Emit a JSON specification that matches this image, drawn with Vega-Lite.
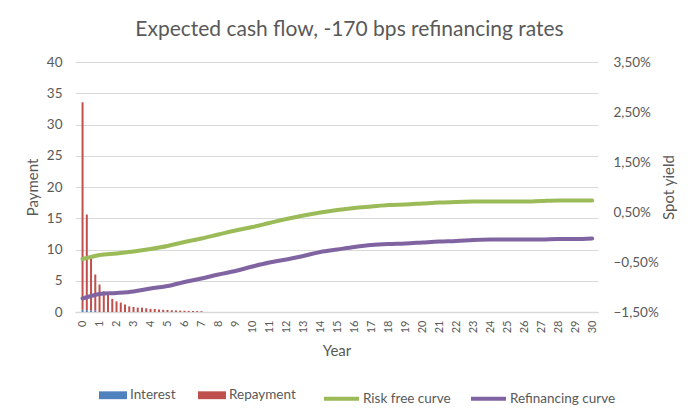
{
  "$schema": "https://vega.github.io/schema/vega-lite/v6.json",
  "width": 523,
  "height": 250,
  "autosize": "none",
  "padding": {"left": 75, "top": 62, "right": 102, "bottom": 108},
  "background": "white",
  "config": {
    "view": {"stroke": null},
    "font": "Lato",
    "axis": {"labelColor": "#595959", "titleColor": "#595959", "titleFontWeight": "normal", "gridColor": "#D9D9D9", "gridWidth": 1, "ticks": false},
    "axisX": {"labelOverlap": false},
    "legend": {"labelColor": "#595959", "labelFontSize": 13.5, "labelLimit": 300}
  },
  "title": {
    "text": "Expected cash flow, -170 bps refinancing rates",
    "fontSize": 21,
    "fontWeight": "normal",
    "color": "#595959",
    "anchor": "middle",
    "dx": 13,
    "baseline": "alphabetic",
    "offset": -2
  },
  "datasets": {
    "cash": [
      {"year": 0, "type": "Interest", "value": 0.35},
      {"year": 0.25, "type": "Interest", "value": 0.3},
      {"year": 0.5, "type": "Interest", "value": 0.25},
      {"year": 0.75, "type": "Interest", "value": 0.2},
      {"year": 0, "type": "Repayment", "value": 33.2},
      {"year": 0.25, "type": "Repayment", "value": 15.3},
      {"year": 0.5, "type": "Repayment", "value": 8.25},
      {"year": 0.75, "type": "Repayment", "value": 5.8},
      {"year": 1, "type": "Repayment", "value": 4.4},
      {"year": 1.25, "type": "Repayment", "value": 3.3},
      {"year": 1.5, "type": "Repayment", "value": 2.9},
      {"year": 1.75, "type": "Repayment", "value": 2.1},
      {"year": 2, "type": "Repayment", "value": 1.7},
      {"year": 2.25, "type": "Repayment", "value": 1.5},
      {"year": 2.5, "type": "Repayment", "value": 1.2},
      {"year": 2.75, "type": "Repayment", "value": 0.9},
      {"year": 3, "type": "Repayment", "value": 0.8},
      {"year": 3.25, "type": "Repayment", "value": 0.7},
      {"year": 3.5, "type": "Repayment", "value": 0.7},
      {"year": 3.75, "type": "Repayment", "value": 0.6},
      {"year": 4, "type": "Repayment", "value": 0.5},
      {"year": 4.25, "type": "Repayment", "value": 0.48},
      {"year": 4.5, "type": "Repayment", "value": 0.4},
      {"year": 4.75, "type": "Repayment", "value": 0.35},
      {"year": 5, "type": "Repayment", "value": 0.32},
      {"year": 5.25, "type": "Repayment", "value": 0.28},
      {"year": 5.5, "type": "Repayment", "value": 0.25},
      {"year": 5.75, "type": "Repayment", "value": 0.22},
      {"year": 6, "type": "Repayment", "value": 0.2},
      {"year": 6.25, "type": "Repayment", "value": 0.18},
      {"year": 6.5, "type": "Repayment", "value": 0.16},
      {"year": 6.75, "type": "Repayment", "value": 0.15},
      {"year": 7, "type": "Repayment", "value": 0.13}
    ],
    "curves": [
      {"year": 0, "curve": "Risk free curve", "yield": -0.44},
      {"year": 0.5, "curve": "Risk free curve", "yield": -0.4},
      {"year": 1, "curve": "Risk free curve", "yield": -0.36},
      {"year": 2, "curve": "Risk free curve", "yield": -0.33},
      {"year": 3, "curve": "Risk free curve", "yield": -0.29},
      {"year": 4, "curve": "Risk free curve", "yield": -0.24},
      {"year": 5, "curve": "Risk free curve", "yield": -0.18},
      {"year": 6, "curve": "Risk free curve", "yield": -0.1},
      {"year": 7, "curve": "Risk free curve", "yield": -0.03},
      {"year": 8, "curve": "Risk free curve", "yield": 0.05},
      {"year": 9, "curve": "Risk free curve", "yield": 0.13},
      {"year": 10, "curve": "Risk free curve", "yield": 0.2},
      {"year": 11, "curve": "Risk free curve", "yield": 0.28},
      {"year": 12, "curve": "Risk free curve", "yield": 0.36},
      {"year": 13, "curve": "Risk free curve", "yield": 0.43},
      {"year": 14, "curve": "Risk free curve", "yield": 0.49},
      {"year": 15, "curve": "Risk free curve", "yield": 0.54},
      {"year": 16, "curve": "Risk free curve", "yield": 0.58},
      {"year": 17, "curve": "Risk free curve", "yield": 0.61},
      {"year": 18, "curve": "Risk free curve", "yield": 0.64},
      {"year": 19, "curve": "Risk free curve", "yield": 0.65},
      {"year": 20, "curve": "Risk free curve", "yield": 0.67},
      {"year": 21, "curve": "Risk free curve", "yield": 0.69},
      {"year": 22, "curve": "Risk free curve", "yield": 0.7},
      {"year": 23, "curve": "Risk free curve", "yield": 0.71},
      {"year": 24, "curve": "Risk free curve", "yield": 0.71},
      {"year": 25, "curve": "Risk free curve", "yield": 0.71},
      {"year": 26, "curve": "Risk free curve", "yield": 0.71},
      {"year": 27, "curve": "Risk free curve", "yield": 0.72},
      {"year": 28, "curve": "Risk free curve", "yield": 0.73},
      {"year": 29, "curve": "Risk free curve", "yield": 0.73},
      {"year": 30, "curve": "Risk free curve", "yield": 0.73},
      {"year": 0, "curve": "Refinancing curve", "yield": -1.23},
      {"year": 0.5, "curve": "Refinancing curve", "yield": -1.18},
      {"year": 1, "curve": "Refinancing curve", "yield": -1.14},
      {"year": 2, "curve": "Refinancing curve", "yield": -1.12},
      {"year": 3, "curve": "Refinancing curve", "yield": -1.09},
      {"year": 4, "curve": "Refinancing curve", "yield": -1.03},
      {"year": 5, "curve": "Refinancing curve", "yield": -0.98},
      {"year": 6, "curve": "Refinancing curve", "yield": -0.9},
      {"year": 7, "curve": "Refinancing curve", "yield": -0.83},
      {"year": 8, "curve": "Refinancing curve", "yield": -0.75},
      {"year": 9, "curve": "Refinancing curve", "yield": -0.68},
      {"year": 10, "curve": "Refinancing curve", "yield": -0.59},
      {"year": 11, "curve": "Refinancing curve", "yield": -0.51},
      {"year": 12, "curve": "Refinancing curve", "yield": -0.45},
      {"year": 13, "curve": "Refinancing curve", "yield": -0.38},
      {"year": 14, "curve": "Refinancing curve", "yield": -0.3},
      {"year": 15, "curve": "Refinancing curve", "yield": -0.25},
      {"year": 16, "curve": "Refinancing curve", "yield": -0.2},
      {"year": 17, "curve": "Refinancing curve", "yield": -0.16},
      {"year": 18, "curve": "Refinancing curve", "yield": -0.14},
      {"year": 19, "curve": "Refinancing curve", "yield": -0.13},
      {"year": 20, "curve": "Refinancing curve", "yield": -0.11},
      {"year": 21, "curve": "Refinancing curve", "yield": -0.09},
      {"year": 22, "curve": "Refinancing curve", "yield": -0.08},
      {"year": 23, "curve": "Refinancing curve", "yield": -0.06},
      {"year": 24, "curve": "Refinancing curve", "yield": -0.05},
      {"year": 25, "curve": "Refinancing curve", "yield": -0.05},
      {"year": 26, "curve": "Refinancing curve", "yield": -0.05},
      {"year": 27, "curve": "Refinancing curve", "yield": -0.05},
      {"year": 28, "curve": "Refinancing curve", "yield": -0.04},
      {"year": 29, "curve": "Refinancing curve", "yield": -0.04},
      {"year": 30, "curve": "Refinancing curve", "yield": -0.03}
    ]
  },
  "encoding": {
    "x": {
      "field": "year", "type": "quantitative",
      "scale": {"domain": [-0.15, 30.05], "nice": false, "zero": false},
      "axis": {
        "title": "Year", "titleFontSize": 15, "titlePadding": 11,
        "values": [0,1,2,3,4,5,6,7,8,9,10,11,12,13,14,15,16,17,18,19,20,21,22,23,24,25,26,27,28,29,30],
        "labelAngle": 270, "labelFontSize": 11, "labelPadding": 8,
        "labelOverlap": false, "labelBound": false, "labelFlush": false,
        "grid": false, "domain": true, "domainColor": "#D9D9D9", "domainWidth": 1.5
      }
    }
  },
  "layer": [
    {
      "data": {"name": "cash"},
      "mark": {"type": "bar", "width": 2},
      "encoding": {
        "y": {
          "field": "value", "type": "quantitative", "stack": "zero",
          "scale": {"domain": [0, 40], "nice": false},
          "axis": {
            "title": "Payment", "titleFontSize": 15, "titlePadding": 6,
            "values": [0,5,10,15,20,25,30,35,40],
            "labelFontSize": 13.5, "labelPadding": 13, "domain": false, "grid": true
          }
        },
        "color": {
          "field": "type", "type": "nominal",
          "scale": {"domain": ["Interest", "Repayment"], "range": ["#4F81BD", "#C0504D"]},
          "legend": {
            "title": null, "orient": "none", "direction": "horizontal",
            "legendX": 24, "legendY": 319,
            "symbolType": "M-1,-0.28H1V0.28H-1Z", "symbolSize": 784, "symbolStrokeWidth": 0,
            "labelOffset": 3, "columnPadding": 22
          }
        },
        "order": {"field": "type", "sort": "ascending"}
      }
    },
    {
      "data": {"name": "curves"},
      "mark": {"type": "line", "strokeWidth": 4, "interpolate": "monotone", "strokeCap": "round"},
      "encoding": {
        "y": {
          "field": "yield", "type": "quantitative",
          "scale": {"domain": [-1.5, 3.5], "nice": false, "zero": false},
          "axis": {
            "orient": "right", "title": "Spot yield", "titleFontSize": 15,
            "titleAngle": -90, "titleBaseline": "top", "titlePadding": 3,
            "values": [-1.5, -0.5, 0.5, 1.5, 2.5, 3.5],
            "labelExpr": "replace(format(datum.value, '.2f'), '.', ',') + '%'",
            "labelFontSize": 13.5, "labelPadding": 15, "domain": false, "grid": false
          }
        },
        "color": {
          "field": "curve", "type": "nominal",
          "scale": {"domain": ["Risk free curve", "Refinancing curve"], "range": ["#9BBB59", "#8064A2"]},
          "legend": {
            "title": null, "orient": "none", "direction": "horizontal",
            "legendX": 247, "legendY": 317,
            "symbolType": "stroke", "symbolSize": 1225, "symbolStrokeWidth": 4,
            "labelOffset": 2, "columnPadding": 12
          }
        }
      }
    }
  ],
  "resolve": {"scale": {"y": "independent", "color": "independent"}, "legend": {"color": "independent"}}
}
